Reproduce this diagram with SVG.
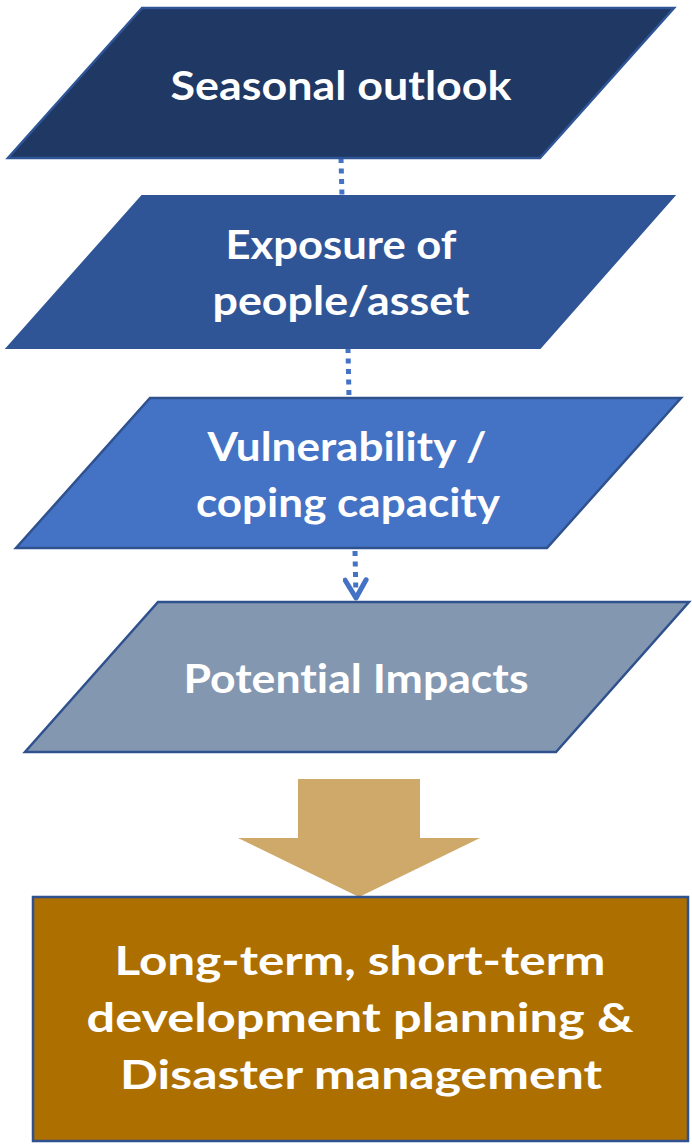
<svg xmlns="http://www.w3.org/2000/svg" width="692" height="1147" viewBox="0 0 692 1147">
<style>
.t{font-family:Lato,"Open Sans","Liberation Sans",sans-serif;font-weight:bold;font-size:40px;fill:#ffffff;text-anchor:middle;font-variant-ligatures:none}
.dot{stroke:#4472C4;stroke-width:5;stroke-dasharray:5 5.5;fill:none}
</style>
<defs>
<marker id="v" viewBox="0 0 24 26" refX="21" refY="13" markerWidth="24" markerHeight="26" markerUnits="userSpaceOnUse" orient="auto">
<path d="M3,2.5 L21,13 L3,23.5" fill="none" stroke="#4472C4" stroke-width="5" stroke-linecap="round" stroke-linejoin="round"/>
</marker>
</defs>
<rect width="692" height="1147" fill="#ffffff"/>
<g id="connectors">
<line class="dot" x1="341" y1="158" x2="342" y2="197"/>
<line class="dot" x1="348" y1="348" x2="349" y2="398"/>
<line class="dot" x1="355" y1="551" x2="356" y2="598" marker-end="url(#v)"/>
<path d="M298,779 H420 V838 H480 L359,897 L238,838 H298 Z" fill="#CFA96A"/>
</g>
<g id="seasonal">
<polygon points="142,8 674,8 540,158 8,158" fill="#203864" stroke="#2F5597" stroke-width="2.5"/>
<text class="t" x="341" y="100" textLength="341" lengthAdjust="spacingAndGlyphs">Seasonal outlook</text>
</g>
<g id="exposure">
<polygon points="142,196 674,196 540,348 7,348" fill="#2F5597" stroke="#2F5597" stroke-width="2"/>
<text class="t" x="341" y="259" textLength="231" lengthAdjust="spacingAndGlyphs">Exposure of</text>
<text class="t" x="341" y="315" textLength="257" lengthAdjust="spacingAndGlyphs">people/asset</text>
</g>
<g id="vulnerability">
<polygon points="150,398 681,398 547,548 16,548" fill="#4472C4" stroke="#2F528F" stroke-width="2.5"/>
<text class="t" x="347" y="461" textLength="279" lengthAdjust="spacingAndGlyphs">Vulnerability /</text>
<text class="t" x="348" y="517" textLength="304" lengthAdjust="spacingAndGlyphs">coping capacity</text>
</g>
<g id="impacts">
<polygon points="158,602 689,602 556,752 25,752" fill="#8497B0" stroke="#2F528F" stroke-width="2.5"/>
<text class="t" x="356" y="693" textLength="345" lengthAdjust="spacingAndGlyphs">Potential Impacts</text>
</g>
<g id="planning">
<rect x="33" y="897" width="655" height="244" fill="#AD6F00" stroke="#2F528F" stroke-width="2.5"/>
<text class="t" x="360" y="975" textLength="491" lengthAdjust="spacingAndGlyphs">Long-term, short-term</text>
<text class="t" x="360" y="1032" textLength="547" lengthAdjust="spacingAndGlyphs">development planning &amp;</text>
<text class="t" x="361" y="1089" textLength="482" lengthAdjust="spacingAndGlyphs">Disaster management</text>
</g>
</svg>
